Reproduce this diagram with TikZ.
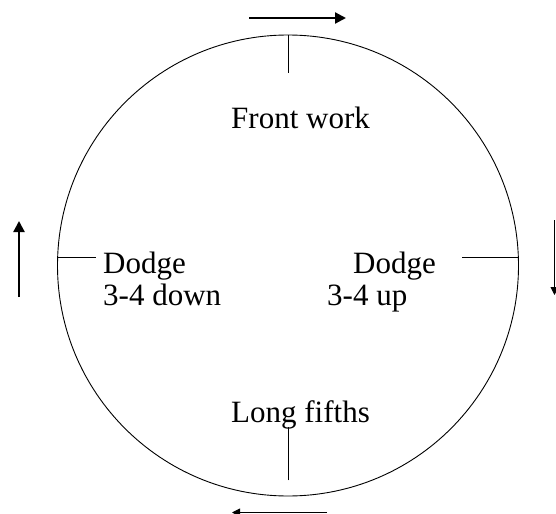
\documentclass[tikz,border=0pt]{standalone}
\usepackage{fontspec}
\setmainfont{Liberation Serif}
\usetikzlibrary{arrows.meta, positioning}

\begin{document}
\begin{tikzpicture}[
    x=1bp, y=-1bp,
    font=\fontsize{31bp}{37bp}\selectfont,
    label/.style={inner sep=0pt, anchor=base west},
    tick/.style={line width=0.9bp},
    bigarrow/.style={line width=2.2bp, -{Triangle[length=11bp, width=11bp]}},
    smallarrow/.style={line width=1bp, -{Triangle[length=8bp, width=8bp]}},
  ]
    \useasboundingbox (0,0) rectangle (556,514);
    \node[circle, draw, line width=0.9bp, minimum size=461bp, inner sep=0pt] (ring) at (288,265.5) {};

    % ticks on the ring
    \draw[tick] (ring.north) -- ++(0,38);
    \draw[tick] (ring.178) -- ++(39,0);
    \draw[tick] (ring.2) -- ++(-57,0);
    \draw[tick] ([yshift=16bp]ring.south) -- ++(0,-53);

    % labels
    \node[label] (front) at (231,129) {Front work};
    \node[label] (dodgeL) at (103,273) {Dodge};
    \node[label] (downL) at (103,305) {3-4 down};
    \node[label] (dodgeR) at (353,273) {Dodge};
    \node[label] (upR) at (327,305) {3-4 up};
    \node[label] (fifths) at (231,422) {Long fifths};

    % direction arrows
    \coordinate (topA) at (249,18);
    \coordinate (topB) at (346,18);
    \coordinate (leftA) at (19,297);
    \coordinate (leftB) at (19,221);
    \coordinate (rightA) at (554.5,220);
    \coordinate (rightB) at (554.5,295);
    \coordinate (botA) at (327,512.5);
    \coordinate (botB) at (232,512.5);
    \draw[bigarrow] (topA) -- (topB);
    \draw[bigarrow] (leftA) -- (leftB);
    \draw[smallarrow] (rightA) -- (rightB);
    \draw[smallarrow] (botA) -- (botB);
  \end{tikzpicture}
\end{document}
